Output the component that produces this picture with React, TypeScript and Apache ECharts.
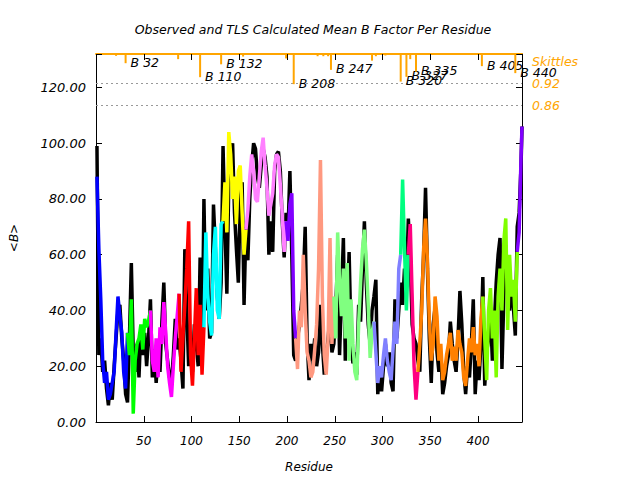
import React, { useEffect, useRef } from 'react';
import * as echarts from 'echarts';

// Residue numbers sampled (every second residue, plus the last one)
const residues: number[] = Array.from({ length: 223 }, (_, i) => 1 + 2 * i).concat([446]);

// Observed mean B per residue (black)
const observed: number[] = [
  // 1..31
  99, 24, 30, 18, 22, 12, 6, 14, 8, 20, 30, 40, 42, 30, 22, 10,
  // 33..55
  7, 30, 57, 25, 18, 28, 16, 34, 24, 32, 20, 30,
  // 57..85
  44, 16, 26, 14, 24, 18, 36, 50, 28, 22, 16, 14, 24, 37, 26,
  // 87..111
  30, 22, 12, 62, 40, 20, 30, 18, 35, 28, 20, 59, 20,
  // 113..131
  80, 40, 55, 30, 32, 78, 62, 45, 37, 50,
  // 133..155
  99, 70, 46, 85, 92, 100, 75, 62, 50, 80, 86, 42,
  // 157..197
  70, 58, 80, 92, 100, 98, 88, 84, 92, 98, 95, 88, 60, 72, 61, 90, 96, 97, 90, 72, 59,
  // 199..207
  75, 68, 90, 60, 24,
  // 209..247
  22, 30, 35, 42, 50, 70, 30, 15, 28, 22, 30, 20, 25, 42, 28, 17, 23, 30, 38, 25,
  // 249..289
  28, 40, 60, 24, 45, 66, 22, 40, 61, 30, 21, 25, 17, 42, 36, 55, 72, 50, 35, 28, 40,
  // 291..317
  45, 51, 10, 18, 11, 20, 28, 20, 25, 14, 11, 44, 30, 40,
  // 319..325
  50, 42, 55, 50,
  // 327..335
  73, 60, 35, 30, 28,
  // 337..403
  22, 18, 44, 60, 84, 55, 30, 14, 35, 41, 25, 18, 25, 10, 14, 20, 24, 36, 28, 22, 18, 30, 47, 35, 18, 10, 20, 16, 28, 44, 10, 22, 15, 28,
  // 405..439
  52, 13, 25, 30, 39, 22, 35, 50, 60, 66, 19, 45, 55, 51, 40, 48, 41, 31,
  // 441..446
  70, 75, 92, 106,
];

// TLS calculated mean B per residue (coloured by TLS group)
const tlsCalc: number[] = [
  88, 62, 44, 22, 14, 18, 8, 10, 14, 18, 32, 45, 38, 32, 18, 12,
  32, 24, 44, 3, 22, 28, 30, 35, 26, 37, 34, 36,
  40, 22, 18, 30, 16, 34, 28, 43, 32, 20, 14, 9, 20, 30, 38,
  46, 18, 30, 42, 55, 72, 24, 13, 30, 48, 24, 42, 17,
  34, 68, 46, 36, 31, 60, 70, 40, 37, 71,
  72, 86, 68, 104, 96, 80, 88, 71, 90, 92, 75, 60,
  69, 76, 88, 96, 90, 80, 79, 88, 97, 102, 92, 84, 74, 78, 82, 92, 96, 95, 85, 74, 61,
  72, 65, 78, 82, 40,
  30, 19, 40, 34, 60, 40, 25, 22, 16, 18, 26, 35, 55, 94, 45, 24, 17, 30, 66, 28,
  45, 30, 68, 50, 38, 55, 30, 57, 22, 44, 28, 18, 15, 35, 50, 62, 69, 58, 42, 23, 32,
  36, 25, 14, 20, 16, 24, 30, 22, 18, 15, 26, 36, 28, 55,
  60, 87, 62, 40,
  60, 71, 45, 20, 8,
  18, 28, 40, 62, 73, 58, 36, 22, 28, 45, 38, 22, 28, 15, 18, 24, 28, 32, 22, 27, 22, 33, 28, 25, 16, 13, 22, 30, 25, 34, 24, 28, 20, 37,
  45, 30, 15, 40, 48, 30, 40, 16, 45, 55, 40, 65, 73, 33, 60, 45, 51, 36,
  61, 68, 95, 106,
];

// TLS groups: first residue and colour
const groupStarts: number[] = [1, 33, 57, 87, 113, 133, 157, 199, 209, 249, 291, 319, 327, 337, 405, 441];
const groupColors: string[] = [
  '#0000ff', '#00ff00', '#ff00ff', '#ff0000', '#00ffff', '#ffff00', '#ff80ff', '#8000ff',
  '#ff9980', '#80ff80', '#8080ff', '#00ff80', '#ff0080', '#ff8000', '#80ff00', '#8000ff',
];

// Skittles (hanging from the top, right-hand 0..1 scale)
const skittleResidues: number[] = [21, 31, 86, 109, 131, 154, 199, 207, 232, 238, 243, 246, 289, 293, 303, 319, 325, 329, 335, 404, 439];
const skittleValues: number[] = [0.995, 0.975, 0.986, 0.937, 0.972, 0.993, 0.988, 0.918, 0.994, 0.994, 0.994, 0.957, 0.982, 0.994, 0.996, 0.925, 0.938, 0.986, 0.952, 0.967, 0.948];
const skittleLabels: string[] = ['', 'B 32', '', 'B 110', 'B 132', '', '', 'B 208', '', '', '', 'B 247', '', '', '', 'B 320', 'B 327', '', 'B 335', 'B 405', 'B 440'];

const refLevels: number[] = [0.92, 0.86];
const rightLabels: number[] = [0.86, 0.92];

const FONT = 'DejaVu Sans';
const ORANGE = '#ffa500';

export default function App() {
  const ref = useRef<HTMLDivElement>(null);

  useEffect(() => {
    if (!ref.current) return;
    const chart = echarts.init(ref.current, undefined, { renderer: 'svg' });

    const obsData = residues.map((r, i) => [r, observed[i]]);
    const tlsSeries = groupStarts.map((start, gi) => {
      const next = gi + 1 < groupStarts.length ? groupStarts[gi + 1] : Infinity;
      const data = residues
        .map((r, i) => [r, tlsCalc[i]])
        .filter((p) => p[0] >= start && p[0] <= next);
      return {
        type: 'line',
        xAxisIndex: 0,
        yAxisIndex: 0,
        data,
        symbol: 'none',
        lineStyle: { color: groupColors[gi], width: 3.5 },
        z: 3,
        silent: true,
      };
    });

    const textStyle = { fontFamily: FONT, fontStyle: 'italic', fontSize: 12, color: '#000' };

    chart.setOption({
      animation: false,
      title: {
        text: 'Observed and TLS Calculated Mean B Factor Per Residue',
        left: 308,
        top: 18,
        textAlign: 'center',
        textStyle: { ...textStyle, fontSize: 12.5, fontWeight: 'normal' },
      },
      grid: { left: 94, right: 118, top: 54, bottom: 58 },
      xAxis: [
        {
          type: 'value',
          position: 'bottom',
          min: 0,
          max: 446,
          interval: 50,
          name: 'Residue',
          nameLocation: 'middle',
          nameGap: 39,
          nameTextStyle: textStyle,
          axisLine: { show: true, onZero: false, lineStyle: { color: '#000', width: 1 } },
          axisTick: { show: true, inside: true, length: 6, lineStyle: { color: '#000' } },
          axisLabel: {
            ...textStyle,
            margin: 13,
            formatter: (v: number) => (v > 0 && v <= 400 && v % 50 === 0 ? String(v) : ''),
          },
          splitLine: { show: false },
        },
        {
          type: 'value',
          position: 'top',
          min: 0,
          max: 446,
          interval: 50,
          axisLine: { show: true, onZero: false, lineStyle: { color: ORANGE, width: 2 } },
          axisTick: { show: true, inside: true, length: 6, lineStyle: { color: '#000' } },
          axisLabel: { show: false },
          splitLine: { show: false },
        },
      ],
      yAxis: [
        {
          type: 'value',
          position: 'left',
          min: 0,
          max: 132,
          interval: 20,
          name: '<B>',
          nameLocation: 'middle',
          nameGap: 76,
          nameTextStyle: textStyle,
          axisLine: { show: true, onZero: false, lineStyle: { color: '#000', width: 1 } },
          axisTick: { show: true, inside: true, length: 6, lineStyle: { color: '#000' } },
          axisLabel: {
            ...textStyle,
            fontSize: 13,
            margin: 10,
            formatter: (v: number) => (v % 20 === 0 ? v.toFixed(2) : ''),
          },
          splitLine: { show: false },
        },
        {
          type: 'value',
          position: 'right',
          min: 0,
          max: 1,
          axisLine: { show: false, onZero: false },
          axisTick: { show: false },
          axisLabel: {
            ...textStyle,
            fontSize: 12.5,
            color: ORANGE,
            margin: 10,
            customValues: rightLabels,
            formatter: (v: number) => v.toFixed(2),
          },
          splitLine: { show: false },
        },
        {
          type: 'value',
          position: 'right',
          min: 0,
          max: 132,
          interval: 20,
          axisLine: { show: true, onZero: false, lineStyle: { color: '#000', width: 1 } },
          axisTick: { show: true, inside: true, length: 6, lineStyle: { color: '#000' } },
          axisLabel: { show: false },
          splitLine: { show: false },
        },
      ],
      graphic: [
        {
          type: 'text',
          left: 532,
          top: 55,
          style: { text: 'Skittles', fill: ORANGE, font: `italic 12.5px "${FONT}"` },
        },
      ],
      series: [
        {
          type: 'line',
          xAxisIndex: 0,
          yAxisIndex: 0,
          data: obsData,
          symbol: 'none',
          lineStyle: { color: '#000', width: 3.5 },
          z: 2,
          silent: true,
        },
        ...tlsSeries,
        {
          type: 'custom',
          xAxisIndex: 0,
          yAxisIndex: 1,
          z: 5,
          silent: true,
          clip: false,
          data: skittleResidues.map((r, i) => [r, skittleValues[i]]),
          renderItem: (params: any, api: any) => {
            const r = api.value(0);
            const v = api.value(1);
            const top = api.coord([r, 1]);
            const bot = api.coord([r, v]);
            const label = skittleLabels[params.dataIndex];
            return {
              type: 'group',
              children: [
                {
                  type: 'line',
                  shape: { x1: top[0], y1: top[1], x2: bot[0], y2: bot[1] },
                  style: { stroke: ORANGE, lineWidth: 2 },
                },
                {
                  type: 'text',
                  style: {
                    text: label,
                    x: bot[0] + 5,
                    y: bot[1] - 1,
                    fill: '#000',
                    font: `italic 12.5px "${FONT}"`,
                    align: 'left',
                    verticalAlign: 'middle',
                  },
                },
              ],
            };
          },
          markLine: {
            silent: true,
            symbol: ['none', 'none'],
            label: { show: false },
            lineStyle: { color: '#999', type: [2, 3], width: 1 },
            data: refLevels.map((l) => ({ yAxis: l })),
          },
        },
      ],
    });

    return () => {
      chart.dispose();
    };
  }, []);

  return <div ref={ref} style={{ position: 'absolute', left: 0, top: 0, width: 640, height: 480 }} />;
}
